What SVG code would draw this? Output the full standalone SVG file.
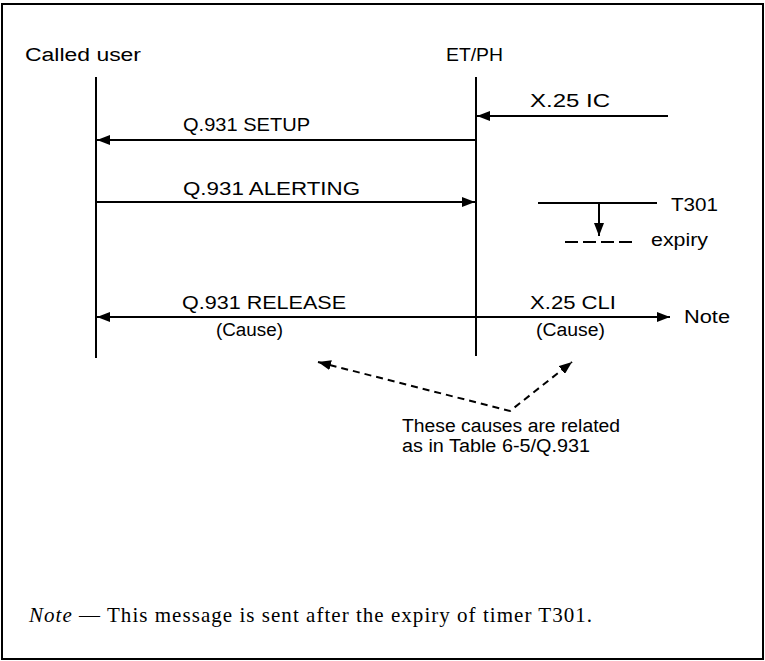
<svg xmlns="http://www.w3.org/2000/svg" width="765" height="661" viewBox="0 0 765 661">
<style>
.sans{font-family:"Liberation Sans",Arial,sans-serif;font-size:18px;fill:#000}
.serif{font-family:"Liberation Serif","Times New Roman",serif;font-size:21px;fill:#000}
.life{stroke:#000;stroke-width:2;fill:none}
.msg{stroke:#000;stroke-width:2;fill:none}
.dash{stroke:#000;stroke-width:2;fill:none;stroke-dasharray:7,5}
</style>
<defs>
<marker id="ah" viewBox="0 0 13 10" refX="13" refY="5" markerWidth="13" markerHeight="10" markerUnits="userSpaceOnUse" orient="auto">
<path d="M0,0 L13,5 L0,10 Z" fill="#000"/>
</marker>
<marker id="ahs" viewBox="0 0 13 10" refX="13" refY="5" markerWidth="13" markerHeight="10" markerUnits="userSpaceOnUse" orient="auto-start-reverse">
<path d="M0,0 L13,5 L0,10 Z" fill="#000"/>
</marker>
</defs>
<rect x="2" y="4" width="761" height="655" fill="#fff" stroke="#000" stroke-width="2"/>

<g id="called-user">
<text class="sans" x="25" y="61" textLength="116" lengthAdjust="spacingAndGlyphs">Called user</text>
<line class="life" x1="96" y1="77" x2="96" y2="358"/>
</g>
<g id="et-ph">
<text class="sans" x="446" y="61" textLength="57" lengthAdjust="spacingAndGlyphs">ET/PH</text>
<line class="life" x1="476" y1="77" x2="476" y2="356"/>
</g>
<g id="t301-timer">
<line class="msg" x1="538" y1="203" x2="657" y2="203"/>
<line class="msg" x1="599" y1="203" x2="599" y2="236" marker-end="url(#ah)"/>
<line class="dash" x1="565" y1="242" x2="632" y2="242" style="stroke-dasharray:13,5"/>
<text class="sans" x="671" y="211" textLength="47" lengthAdjust="spacingAndGlyphs">T301</text>
<text class="sans" x="651" y="246" textLength="57" lengthAdjust="spacingAndGlyphs">expiry</text>
</g>
<g id="cause-note">
<text class="sans" x="402" y="432" textLength="218" lengthAdjust="spacingAndGlyphs">These causes are related</text>
<text class="sans" x="402" y="452" textLength="188" lengthAdjust="spacingAndGlyphs">as in Table 6-5/Q.931</text>
</g>
<g id="footnote">
<text class="serif" x="29" y="622" textLength="563" lengthAdjust="spacing"><tspan font-style="italic">Note</tspan>  —  This message is sent after the expiry of timer T301.</text>
</g>

<g id="connectors">
<line class="msg" x1="668" y1="116" x2="477" y2="116" marker-end="url(#ah)"/>
<text class="sans" x="530" y="107" textLength="80" lengthAdjust="spacingAndGlyphs">X.25 IC</text>
<line class="msg" x1="475" y1="140" x2="97" y2="140" marker-end="url(#ah)"/>
<text class="sans" x="183" y="131" textLength="127" lengthAdjust="spacingAndGlyphs">Q.931 SETUP</text>
<line class="msg" x1="97" y1="202" x2="475" y2="202" stroke-width="1.5" marker-end="url(#ah)"/>
<text class="sans" x="183" y="195" textLength="177" lengthAdjust="spacingAndGlyphs">Q.931 ALERTING</text>
<line class="msg" x1="475" y1="317" x2="97" y2="317" marker-end="url(#ah)"/>
<text class="sans" x="182" y="309" textLength="164" lengthAdjust="spacingAndGlyphs">Q.931 RELEASE</text>
<text class="sans" x="216" y="336" textLength="67" lengthAdjust="spacingAndGlyphs">(Cause)</text>
<line class="msg" x1="477" y1="317" x2="670" y2="317" marker-end="url(#ah)"/>
<text class="sans" x="530" y="309" textLength="86" lengthAdjust="spacingAndGlyphs">X.25 CLI</text>
<text class="sans" x="536" y="336" textLength="69" lengthAdjust="spacingAndGlyphs">(Cause)</text>
<text class="sans" x="684" y="323" textLength="46" lengthAdjust="spacingAndGlyphs">Note</text>
<polyline class="dash" points="318,362 510,411 572,362" marker-start="url(#ahs)" marker-end="url(#ah)"/>
</g>
</svg>
